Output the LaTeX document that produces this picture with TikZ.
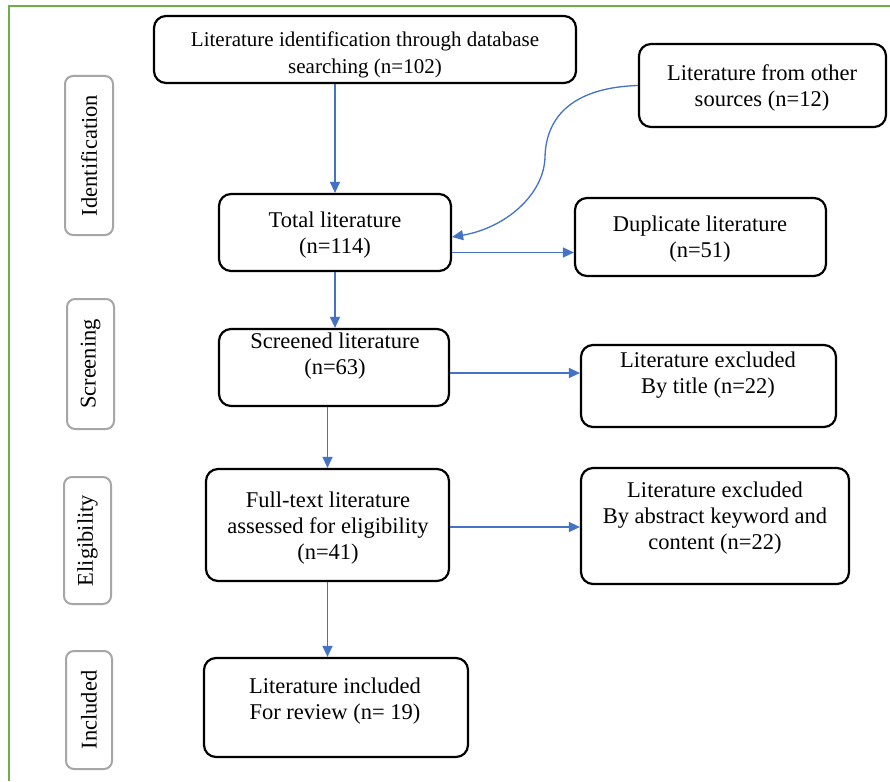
\documentclass[tikz,border=0pt]{standalone}
\usepackage{fontspec}
\setmainfont{Liberation Serif}
\usetikzlibrary{arrows.meta}
\definecolor{frameg}{HTML}{70AD47}
\definecolor{arrblue}{HTML}{4472C4}
\definecolor{lblgray}{HTML}{A6A6A6}
\tikzset{
  box/.style={draw=black, line width=2.2pt, rounded corners=12pt, inner sep=0pt},
  stage/.style={draw=lblgray, line width=2pt, rounded corners=8pt, inner sep=0pt},
  txt/.style={align=center, inner sep=0pt, font=\fontsize{22.5}{26}\selectfont},
  smalltxt/.style={align=center, inner sep=0pt, font=\fontsize{21}{27}\selectfont},
  stagetxt/.style={rotate=90, inner sep=0pt, font=\fontsize{22.5}{26}\selectfont},
  arr/.style={draw=arrblue, line width=1.3pt, -{Triangle[length=11pt,width=10pt]}}
}
\begin{document}
\begin{tikzpicture}[x=1pt,y=-1pt]
\useasboundingbox (0,0) rectangle (890,781);
\fill[white] (0,0) rectangle (890,781);
\draw[frameg, line width=2pt] (9,781) -- (9,6) -- (890,6);

% stage labels
\node[stage, minimum width=48pt, minimum height=159pt] (sid) at (89,155.5) {};
\node[stagetxt] (sidt) at (89,155.5) {Identification};
\node[stage, minimum width=47pt, minimum height=130pt] (ssc) at (90.5,364) {};
\node[stagetxt] (ssct) at (90.5,364) {Screening};
\node[stage, minimum width=47pt, minimum height=127pt] (sel) at (87.5,540.5) {};
\node[stagetxt] (selt) at (87.5,540.5) {Eligibility};
\node[stage, minimum width=46pt, minimum height=118pt] (sin) at (89,710) {};
\node[stagetxt] (sint) at (89,710) {Included};

% boxes
\node[box, minimum width=422pt, minimum height=67pt] (top) at (365,49.5) {};
\node[smalltxt] (topt) at (365,55) {Literature identification through database\\searching (n=102)};

\node[box, minimum width=247pt, minimum height=83pt] (src) at (762.5,85.5) {};
\node[txt] (srct) at (762,88) {Literature from other\\sources (n=12)};

\node[box, minimum width=232pt, minimum height=77pt] (tot) at (335,232.5) {};
\node[txt] (tott) at (335,235) {Total literature\\(n=114)};

\node[box, minimum width=251pt, minimum height=78pt] (dup) at (700.5,237) {};
\node[txt] (dupt) at (700,239) {Duplicate literature\\(n=51)};

\node[box, minimum width=230pt, minimum height=77pt] (scr) at (334,367.5) {};
\node[txt] (scrt) at (335,356) {Screened literature\\(n=63)};

\node[box, minimum width=255pt, minimum height=82pt] (ex1) at (708.5,386) {};
\node[txt] (ex1t) at (708,375) {Literature excluded\\By title (n=22)};

\node[box, minimum width=243pt, minimum height=112pt] (full) at (327.5,525) {};
\node[txt] (fullt) at (328,528) {Full-text literature\\assessed for eligibility\\(n=41)};

\node[box, minimum width=268pt, minimum height=116pt] (ex2) at (715,526) {};
\node[txt] (ex2t) at (715,518) {Literature excluded\\By abstract keyword and\\content (n=22)};

\node[box, minimum width=264pt, minimum height=99pt] (inc) at (336,707.5) {};
\node[txt] (inct) at (335,701) {Literature included\\For review (n= 19)};

% connectors
\draw[arr] (top.south -| tot.north) -- (tot.north);
\draw[arr] (tot.south) -- (tot.south |- scr.north);
\draw[arr] (scr.south -| full.north) -- (full.north);
\draw[arr] (full.south) -- (full.south |- inc.north);
\draw[arr] ([yshift=-20pt]tot.east) coordinate (a1) -- (a1 -| dup.west);
\draw[arr] ([yshift=-5.5pt]scr.east) coordinate (a2) -- (a2 -| ex1.west);
\draw[arr] ([yshift=-2pt]full.east) coordinate (a3) -- (a3 -| ex2.west);
\coordinate (cm) at (545,157);
\draw[arr] (src.west) .. controls +(-63,2) and +(1,-42) .. (cm)
  .. controls +(-1,38) and +(53,-9) .. ([yshift=-4.5pt]tot.east);
\end{tikzpicture}
\end{document}
